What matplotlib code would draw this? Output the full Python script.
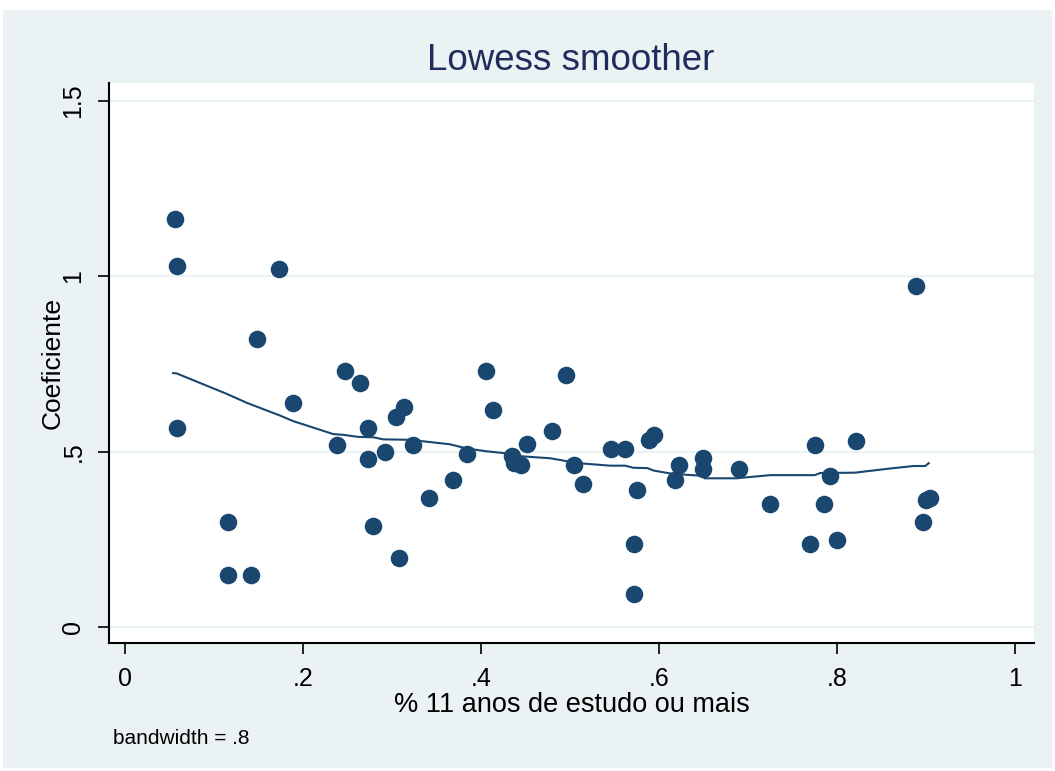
import matplotlib
matplotlib.use("Agg")
import matplotlib.pyplot as plt
from matplotlib.patches import Rectangle

# scatter: % 11 anos de estudo ou mais vs. coeficiente
educ = [0.056, 0.058, 0.058, 0.116, 0.116, 0.142, 0.148, 0.173, 0.189, 0.238,
        0.247, 0.264, 0.273, 0.273, 0.279, 0.292, 0.304, 0.313, 0.308, 0.324,
        0.342, 0.369, 0.384, 0.406, 0.413, 0.435, 0.437, 0.445, 0.452, 0.480,
        0.496, 0.504, 0.515, 0.546, 0.562, 0.572, 0.572, 0.575, 0.589, 0.594,
        0.618, 0.622, 0.649, 0.649, 0.690, 0.725, 0.770, 0.775, 0.785, 0.792,
        0.800, 0.821, 0.889, 0.897, 0.900, 0.904]
coef = [1.163, 1.030, 0.567, 0.298, 0.149, 0.149, 0.820, 1.020, 0.639, 0.520,
        0.730, 0.696, 0.567, 0.480, 0.287, 0.500, 0.599, 0.627, 0.198, 0.520,
        0.367, 0.418, 0.493, 0.730, 0.619, 0.487, 0.467, 0.461, 0.521, 0.559,
        0.719, 0.461, 0.407, 0.507, 0.507, 0.238, 0.095, 0.390, 0.533, 0.547,
        0.418, 0.461, 0.481, 0.450, 0.450, 0.350, 0.238, 0.520, 0.350, 0.430,
        0.249, 0.530, 0.971, 0.298, 0.361, 0.367]

# lowess curve
fit_x = [0.054, 0.058, 0.114, 0.137, 0.174, 0.189, 0.234, 0.245, 0.262, 0.279,
         0.290, 0.315, 0.333, 0.365, 0.384, 0.406, 0.425, 0.444, 0.478, 0.496,
         0.515, 0.545, 0.562, 0.571, 0.587, 0.594, 0.612, 0.631, 0.650, 0.651,
         0.687, 0.725, 0.775, 0.781, 0.820, 0.860, 0.886, 0.899, 0.903]
fit_y = [0.724, 0.723, 0.665, 0.639, 0.603, 0.587, 0.550, 0.548, 0.542, 0.541,
         0.535, 0.534, 0.530, 0.521, 0.509, 0.501, 0.496, 0.487, 0.481, 0.473,
         0.466, 0.460, 0.460, 0.454, 0.453, 0.446, 0.438, 0.434, 0.431, 0.424,
         0.424, 0.433, 0.433, 0.439, 0.440, 0.452, 0.459, 0.459, 0.467]

xticks = [0, 0.2, 0.4, 0.6, 0.8, 1]
xticklabels = ["0", ".2", ".4", ".6", ".8", "1"]
yticks = [0, 0.5, 1, 1.5]
yticklabels = ["0", ".5", "1", "1.5"]

navy = "#1a476f"
bg = "#eaf2f3"

plt.rcParams["font.family"] = ["Liberation Sans", "DejaVu Sans"]

W, H = 1055, 771
fig = plt.figure(figsize=(W / 100, H / 100), dpi=100)
fig.patch.set_facecolor("white")
fig.patches.append(Rectangle((3 / W, 1 - 768 / H), (1052 - 3) / W, (768 - 10) / H,
                             transform=fig.transFigure, facecolor=bg,
                             edgecolor="none", zorder=-5))

ax = fig.add_axes([109 / W, 1 - 643 / H, (1034 - 109) / W, (643 - 83) / H])
ax.set_zorder(1)
ax.set_facecolor("white")

ax.scatter(educ, coef, s=160, color=navy, linewidths=0, zorder=3)
ax.plot(fit_x, fit_y, color=navy, lw=1.5, zorder=4)

ax.set_xlim(-0.018, 1.0213)
ax.set_ylim(-0.0456, 1.551)
ax.set_xticks(xticks)
ax.set_xticklabels(xticklabels)
ax.set_yticks(yticks)
ax.set_yticklabels(yticklabels, rotation=90, va="center")
ax.grid(axis="y", color=bg, lw=1.6, zorder=1)
ax.grid(axis="x", visible=False)

for side in ["top", "right"]:
    ax.spines[side].set_visible(False)
for side in ["left", "bottom"]:
    ax.spines[side].set_linewidth(1.5)
    ax.spines[side].set_color("black")
ax.tick_params(length=8, width=1.2, labelsize=18, pad=9)

ax.set_xlabel("% 11 anos de estudo ou mais", fontsize=19.5, labelpad=1)
ax.set_ylabel("Coeficiente", fontsize=19, labelpad=-2)

fig.text(0.541, 1 - 61 / H, "Lowess smoother", fontsize=26.5, color="#1f2d5c",
         ha="center", va="center")
fig.text(113 / W, 1 - 738 / H, "bandwidth = .8", fontsize=15,
         ha="left", va="center")

fig.savefig("out.png", dpi=100)
